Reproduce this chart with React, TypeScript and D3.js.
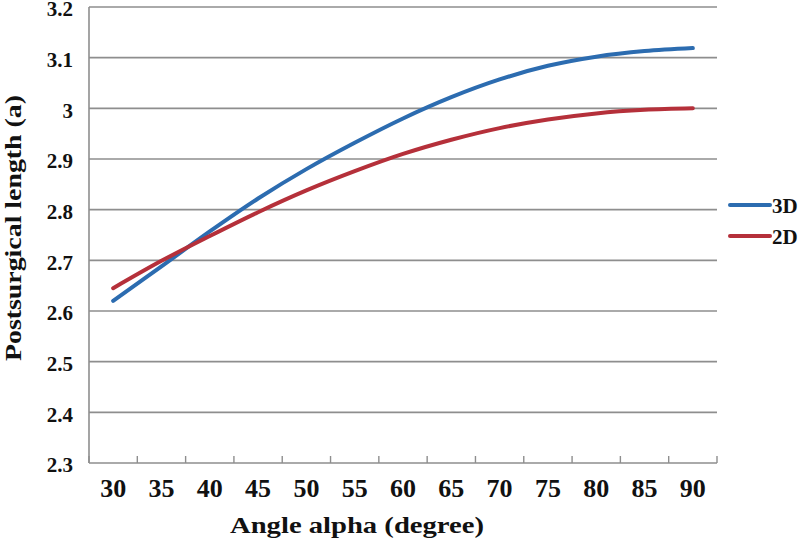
import React from 'react'
import * as d3 from 'd3'

const angles = ['30', '35', '40', '45', '50', '55', '60', '65', '70', '75', '80', '85', '90']
const series3D = [2.62, 2.688, 2.757, 2.822, 2.88, 2.932, 2.98, 3.022, 3.057, 3.084, 3.102, 3.113, 3.119]
const series2D = [2.645, 2.699, 2.748, 2.795, 2.838, 2.876, 2.91, 2.938, 2.961, 2.978, 2.99, 2.997, 3.0]
const yTicks = [2.3, 2.4, 2.5, 2.6, 2.7, 2.8, 2.9, 3, 3.1, 3.2]
const seriesNames = ['3D', '2D']
const seriesColors = ['#2c6cb0', '#b5303a']

const width = 800
const height = 542
const plot = { left: 89, right: 717, top: 7, bottom: 463 }
const font = '"Liberation Serif", "Times New Roman", serif'

export default function App() {
  const x = d3.scaleBand<string>().domain(angles).range([plot.left, plot.right]).padding(0)
  const y = d3.scaleLinear().domain([2.3, 3.2]).range([plot.bottom, plot.top])

  const line = d3
    .line<number>()
    .x((_, i) => x(angles[i])! + x.bandwidth() / 2)
    .y(d => y(d))
    .curve(d3.curveCatmullRom.alpha(0.5))

  const data = [series3D, series2D]
  // category boundaries for the small ticks
  const bounds = angles.map(a => x(a)!).concat([plot.right])

  return (
    <svg
      width={width}
      height={height}
      style={{ position: 'absolute', left: 0, top: 0, background: '#fff' }}
      fontFamily={font}
    >
      {/* gridlines */}
      {yTicks.map(t => (
        <line key={t} x1={plot.left} x2={plot.right} y1={y(t)} y2={y(t)} stroke="#8e8e8e" strokeWidth={1.6} />
      ))}
      {/* y axis line */}
      <line x1={plot.left} x2={plot.left} y1={plot.top} y2={plot.bottom} stroke="#8e8e8e" strokeWidth={1.6} />
      {/* x ticks */}
      {bounds.map((b, i) => (
        <line key={i} x1={b} x2={b} y1={plot.bottom} y2={plot.bottom - 7} stroke="#8e8e8e" strokeWidth={1.4} />
      ))}

      {/* y tick labels */}
      {yTicks.map(t => (
        <text
          key={t}
          x={73}
          y={y(t) + 2}
          dy="0.35em"
          textAnchor="end"
          fontSize={21}
          fontWeight="bold"
          fill="#111"
        >
          {String(t)}
        </text>
      ))}
      {/* x tick labels */}
      {angles.map(a => (
        <text
          key={a}
          x={x(a)! + x.bandwidth() / 2}
          y={497}
          textAnchor="middle"
          fontSize={26}
          fontWeight="bold"
          fill="#111"
        >
          {a}
        </text>
      ))}

      {/* lines */}
      {data.map((s, i) => (
        <path
          key={seriesNames[i]}
          d={line(s)!}
          fill="none"
          stroke={seriesColors[i]}
          strokeWidth={4}
          strokeLinecap="round"
        />
      ))}

      {/* legend */}
      {seriesNames.map((n, i) => (
        <g key={n} transform={`translate(730, ${205 + i * 31})`}>
          <line x1={0} x2={40} y1={0} y2={0} stroke={seriesColors[i]} strokeWidth={4} strokeLinecap="round" />
          <text x={42} y={1} dy="0.35em" fontSize={21} fontWeight="bold" fill="#111">
            {n}
          </text>
        </g>
      ))}

      {/* axis titles */}
      <text
        x={230}
        y={533}
        fontSize={23}
        fontWeight="bold"
        fill="#111"
        textLength={254}
        lengthAdjust="spacingAndGlyphs"
      >
        Angle alpha (degree)
      </text>
      <text
        transform="translate(21, 361) rotate(-90)"
        fontSize={23}
        fontWeight="bold"
        fill="#111"
        textLength={266}
        lengthAdjust="spacingAndGlyphs"
      >
        Postsurgical length (a)
      </text>
    </svg>
  )
}
